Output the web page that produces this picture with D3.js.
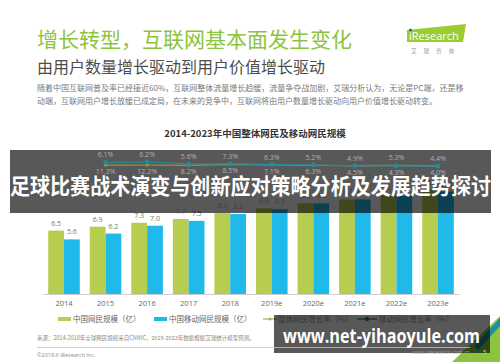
<!DOCTYPE html>
<html>
<head>
<meta charset="utf-8">
<script src="https://cdn.jsdelivr.net/npm/d3@7"></script>
<style>
  body { margin: 0; background: #fff; }
  svg { display: block; }
</style>
</head>
<body>
<div id="chart"></div>
<script>
// chart data
var years = ["2014", "2015", "2016", "2017", "2018", "2019e", "2020e", "2021e", "2022e", "2023e"];
var netUsers = [6.5, 6.9, 7.3, 7.7, 8.3, 8.8, 9.3, 9.7, 10.2, 10.7];
var mobileUsers = [5.6, 6.2, 7.0, 7.5, 8.2, 8.7, 9.3, 9.7, 10.1, 10.5];
var growthYears = ["2015", "2016", "2017", "2018", "2019e", "2020e", "2021e", "2022e", "2023e"];
var netGrowth = [6.1, 6.2, 5.6, 7.3, 6.3, 5.2, 4.9, 5.3, 4.4];
var mobileGrowth = [11.3, 12.2, 8.2, 8.5, 7.1, 6.3, 4.5, 4.3, 4.0];
var legendLabels = ["中国网民规模（亿）", "中国移动网民规模（亿）", "整体网民增长率（%）", "移动网民增长率（%）"];

var width = 500, height = 362;
var cjk = "'Noto Sans CJK SC', 'Noto Sans', sans-serif";
var num = "'Open Sans', 'Noto Sans CJK SC', sans-serif";
var green = "#b6cd4f", blue = "#1fb9ea";

// the dark band and box laid over the picture
var band = {x: 10, y: 150, w: 481, h: 63};
var box = {x: 274, y: 315, w: 216, h: 38};
function inBand(y) { return y > band.y && y < band.y + band.h; }

var svg = d3.select("#chart").append("svg")
  .attr("width", width)
  .attr("height", height);

// header
svg.append("text")
  .attr("x", 37).attr("y", 47)
  .style("font-family", cjk).style("font-size", "21px")
  .attr("fill", "#8cc43f")
  .text("增长转型，互联网基本面发生变化");

svg.append("text")
  .attr("x", 37).attr("y", 73)
  .style("font-family", cjk).style("font-size", "16px")
  .attr("fill", "#4d4d4d")
  .text("由用户数量增长驱动到用户价值增长驱动");

var para = [
  "随着中国互联网普及率已经接近60%，互联网整体流量增长趋缓，流量争夺战加剧，艾瑞分析认为，无论是PC端，还是移",
  "动端，互联网用户增长放缓已成定局，在未来的竞争中，互联网将由用户数量增长驱动向用户价值增长驱动转变。"
];
svg.selectAll(".para").data(para).enter().append("text")
  .attr("class", "para")
  .attr("x", 37).attr("y", (d, i) => 91 + i * 13)
  .style("font-family", cjk).style("font-size", "8px")
  .attr("fill", "#7a7a7a")
  .text(d => d);

// logo
svg.append("polygon")
  .attr("points", "407,30 466,24 463,42 407,42")
  .attr("fill", "#9acd32");
svg.append("text")
  .attr("x", 409).attr("y", 40)
  .style("font-family", num).style("font-size", "11px")
  .attr("fill", "#fff")
  .text("iResearch");
svg.append("circle").attr("cx", 410.5).attr("cy", 30).attr("r", 1.3).attr("fill", "#1d4f8c");
svg.append("text")
  .attr("x", 436).attr("y", 53)
  .attr("text-anchor", "middle")
  .style("font-family", cjk).style("font-size", "5.5px")
  .style("letter-spacing", "7px")
  .attr("fill", "#999")
  .text("艾瑞咨询");

// chart title
svg.append("text")
  .attr("x", 255).attr("y", 137)
  .attr("text-anchor", "middle")
  .style("font-family", cjk).style("font-size", "9.5px").style("font-weight", "bold")
  .attr("fill", "#333")
  .text("2014-2023年中国整体网民及移动网民规模");

// scales
var x = d3.scaleBand()
  .domain(years)
  .range([43, 459])
  .paddingInner(0.24)
  .paddingOuter(0.125);

var xSub = d3.scaleBand()
  .domain(["net", "mobile"])
  .range([0, x.bandwidth()]);

var y = d3.scaleLinear()
  .domain([0, 12])
  .range([294, 177]);

var yRate = d3.scaleLinear()
  .domain([0, 30])
  .range([168.2, 152.6]);

var barData = years.map((d, i) => ({year: d, net: netUsers[i], mobile: mobileUsers[i]}));

// bars
var groups = svg.append("g").selectAll("g")
  .data(barData).enter().append("g")
  .attr("transform", d => `translate(${x(d.year)},0)`);

groups.selectAll("rect")
  .data(d => ["net", "mobile"].map(k => ({key: k, value: d[k]})))
  .enter().append("rect")
  .attr("x", d => xSub(d.key))
  .attr("y", d => y(d.value))
  .attr("width", xSub.bandwidth())
  .attr("height", d => y(0) - y(d.value))
  .attr("fill", d => d.key === "net" ? green : blue);

// bottom axis
var xAxis = svg.append("g")
  .attr("transform", "translate(0," + y(0) + ")")
  .call(d3.axisBottom(x).tickSize(0).tickPadding(7));
xAxis.select(".domain").attr("stroke", "#cfcfcf");
xAxis.selectAll("text")
  .style("font-family", num).style("font-size", "7.5px")
  .attr("fill", "#666");

// legend
var legend = svg.append("g");
var legendX = [58, 154, 263, 355];
legendLabels.forEach(function(label, i) {
  var g = legend.append("g").attr("transform", `translate(${legendX[i]},319)`);
  if (i < 2) {
    g.append("rect").attr("x", 0).attr("y", -2).attr("width", 13).attr("height", 4)
      .attr("fill", i === 0 ? green : blue);
  }
  g.append("text")
    .attr("x", i < 2 ? 15 : (i === 2 ? 15 : 24)).attr("y", 3)
    .style("font-family", cjk).style("font-size", "7.5px")
    .attr("fill", legendX[i] + 15 > box.x ? "#9a9a9a" : "#666")
    .text(label);
});

// footer
svg.append("text")
  .attr("x", 37).attr("y", 340)
  .style("font-family", cjk).style("font-size", "5.5px")
  .attr("fill", "#8a8a8a")
  .text("来源：2014-2018年全球网民规模来自CNNIC，2019-2023年数据根据艾瑞统计模型预测。");
svg.append("text")
  .attr("x", 37).attr("y", 357)
  .style("font-family", num).style("font-size", "5.5px")
  .attr("fill", "#8a8a8a")
  .text("©2019.6 iResearch Inc.");

// corner decoration
svg.append("polygon").attr("points", "452,362 500,362 500,316").attr("fill", "#8cc43f");
svg.append("polygon").attr("points", "478,350 500,326 500,318 474,346").attr("fill", "#1b8fa0");

// overlays
svg.append("rect")
  .attr("x", band.x).attr("y", band.y).attr("width", band.w).attr("height", band.h)
  .attr("fill", "#000").attr("opacity", 0.655);
svg.append("rect")
  .attr("x", box.x).attr("y", box.y).attr("width", box.w).attr("height", box.h)
  .attr("fill", "#000").attr("opacity", 0.655);

// bar value labels
groups.selectAll(".val")
  .data(d => ["net", "mobile"].map(k => ({key: k, value: d[k]})))
  .enter().append("text")
  .attr("class", "val")
  .attr("x", d => xSub(d.key) + xSub.bandwidth() / 2)
  .attr("y", d => y(d.value) - 5)
  .attr("text-anchor", "middle")
  .style("font-family", num).style("font-size", "7px")
  .attr("fill", d => inBand(y(d.value) - 7) ? "#b5b5b5" : "#777")
  .text(d => d.value.toFixed(1));

// growth lines (on top of the band)
var rateData = growthYears.map((d, i) => ({year: d, net: netGrowth[i], mobile: mobileGrowth[i]}));
var cx = d => x(d.year) + x.bandwidth() / 2;

var netLine = d3.line().x(cx).y(d => yRate(d.net));
var mobileLine = d3.line().x(cx).y(d => yRate(d.mobile));

svg.append("path").datum(rateData)
  .attr("d", netLine)
  .attr("fill", "none").attr("stroke", "#919d3c").attr("stroke-width", 1.2);
svg.selectAll(".netDot").data(rateData).enter().append("circle")
  .attr("cx", cx).attr("cy", d => yRate(d.net)).attr("r", 1.6)
  .attr("fill", "#919d3c");

svg.append("path").datum(rateData)
  .attr("d", mobileLine)
  .attr("fill", "none").attr("stroke", "#268a98").attr("stroke-width", 1.3);
svg.selectAll(".mobDot").data(rateData).enter().append("circle")
  .attr("cx", cx).attr("cy", d => yRate(d.mobile)).attr("r", 2.4)
  .attr("fill", "#268a98");

svg.selectAll(".netLab").data(rateData).enter().append("text")
  .attr("x", cx)
  .attr("y", d => Math.min(yRate(d.net), yRate(d.mobile)) - 5)
  .attr("text-anchor", "middle")
  .style("font-family", num).style("font-size", "7px")
  .attr("fill", "#b0b0b0")
  .text(d => d.net.toFixed(1) + "%");

svg.selectAll(".mobLab").data(rateData).enter().append("text")
  .attr("x", cx)
  .attr("y", d => Math.max(yRate(d.net), yRate(d.mobile)) + 9)
  .attr("text-anchor", "middle")
  .style("font-family", num).style("font-size", "7px")
  .attr("fill", "#b0b0b0")
  .text(d => d.mobile.toFixed(1) + "%");

// legend line markers
legend.append("line").attr("x1", 263).attr("x2", 277).attr("y1", 319).attr("y2", 319)
  .attr("stroke", "#a9b63f").attr("stroke-width", 1.2);
legend.append("circle").attr("cx", 270).attr("cy", 319).attr("r", 1.6).attr("fill", "#a9b63f");
legend.append("line").attr("x1", 357).attr("x2", 377).attr("y1", 319).attr("y2", 319)
  .attr("stroke", "#2a7f8c").attr("stroke-width", 1.2);
legend.append("circle").attr("cx", 367).attr("cy", 319).attr("r", 2.2).attr("fill", "#2a7f8c");

// footer rule and site
svg.append("line").attr("x1", 37).attr("x2", 470).attr("y1", 347.5).attr("y2", 347.5)
  .attr("stroke", "#c4c4c4").attr("stroke-width", 0.8);
svg.append("text")
  .attr("x", 470).attr("y", 354)
  .attr("text-anchor", "end")
  .style("font-family", num).style("font-size", "5.5px")
  .attr("fill", "#9a9a9a")
  .text("www.iresearch.com.cn");
svg.append("text")
  .attr("x", 483).attr("y", 354)
  .style("font-family", num).style("font-size", "6px")
  .attr("fill", "#cfe3a0")
  .text("5");

// headline and url laid over the picture
svg.append("text")
  .attr("x", 10).attr("y", 184)
  .attr("dominant-baseline", "central")
  .attr("textLength", 481).attr("lengthAdjust", "spacingAndGlyphs")
  .style("font-family", cjk).style("font-size", "22px").style("font-weight", "bold")
  .attr("fill", "#fff")
  .text("足球比赛战术演变与创新应对策略分析及发展趋势探讨");

svg.append("text")
  .attr("x", 283).attr("y", 343)
  .attr("textLength", 197).attr("lengthAdjust", "spacingAndGlyphs")
  .style("font-family", num).style("font-size", "20px").style("font-weight", "bold")
  .attr("fill", "#fff")
  .text("www.net-yihaoyule.com");
</script>
</body>
</html>
